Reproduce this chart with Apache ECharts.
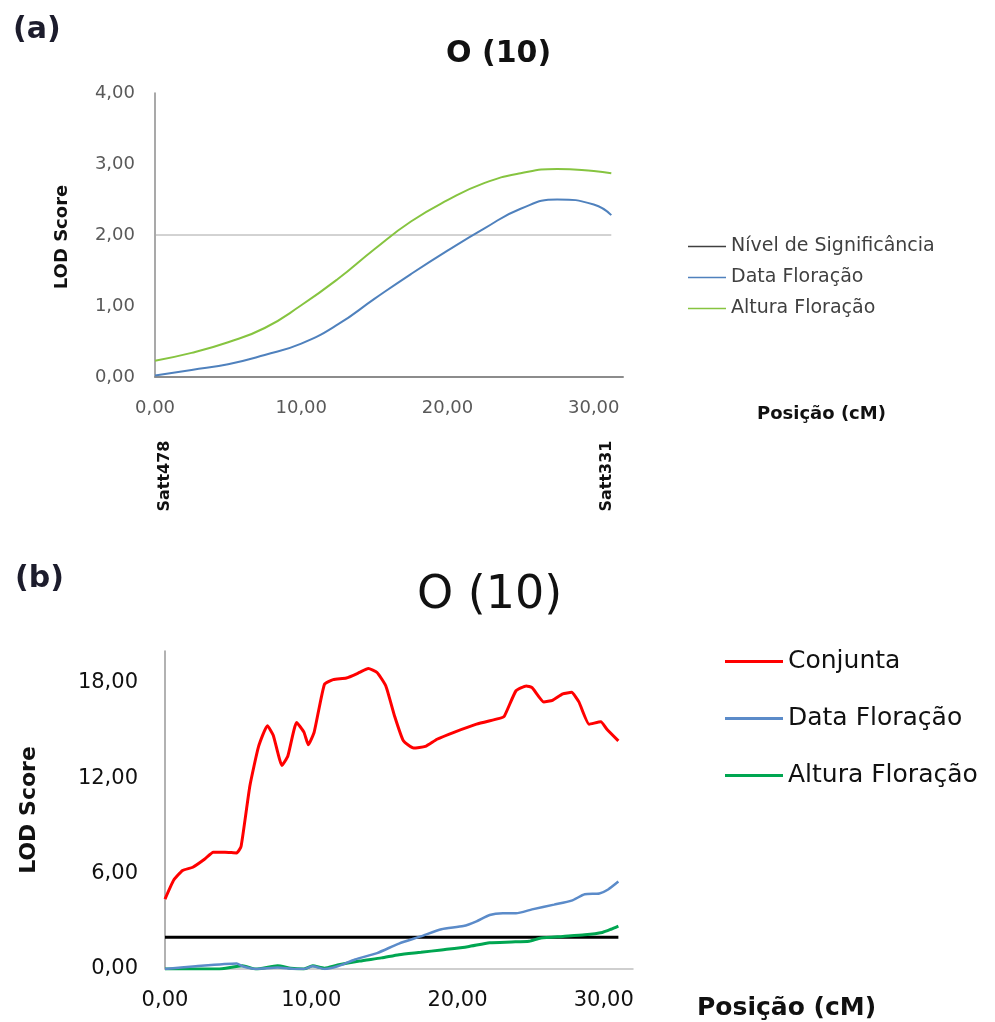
<!DOCTYPE html>
<html>

<head>
	<meta charset="UTF-8">
	<title>LOD O (10)</title>
	<style>
		html, body { margin: 0; padding: 0; background: #fff; }
		#chart { width: 995px; height: 1022px; }
	</style>
	<script src="https://cdn.jsdelivr.net/npm/echarts@6/dist/echarts.min.js"></script>
</head>

<body>
	<div id="chart"></div>
	<script>
		// ---- painel (a) ----
		var posA = [0, 2.5, 5, 7.5, 10, 12.5, 15, 17.5, 20, 22.5, 25, 27.5, 30, 31.2];
		var dataFloracaoA = [0.02, 0.10, 0.18, 0.31, 0.47, 0.74, 1.10, 1.45, 1.78, 2.09, 2.37, 2.50, 2.43, 2.28];
		var alturaFloracaoA = [0.23, 0.34, 0.49, 0.69, 1.01, 1.38, 1.80, 2.19, 2.49, 2.73, 2.87, 2.93, 2.90, 2.87];
		var significanciaA = 2.0;
		var marcadoresA = ['Satt478', 'Satt331'];
		var posMarcadoresA = [0, 31.2];

		// ---- painel (b) ----
		var posConjunta = [0, 0.6, 1.2, 1.9, 2.7, 3.3, 4.1, 4.9, 5.2, 5.8, 6.4, 7.0, 7.4, 8.0, 8.4, 9.0, 9.5, 9.8, 10.2, 10.9,
			11.5, 12.4, 13.3, 13.9, 14.5, 15.1, 15.7, 16.3, 17.0, 17.8, 18.6, 19.8, 21.3, 22.8, 23.2, 24.0, 24.7, 25.1,
			25.9, 26.5, 27.2, 27.8, 28.3, 29.0, 29.8, 30.2, 31.0];
		var conjunta = [4.4, 5.6, 6.2, 6.4, 6.9, 7.35, 7.35, 7.3, 7.7, 11.5, 14.0, 15.3, 14.7, 12.8, 13.4, 15.5, 14.9, 14.1, 14.9, 17.9,
			18.2, 18.3, 18.65, 18.9, 18.65, 17.8, 15.9, 14.35, 13.9, 14.0, 14.45, 14.9, 15.4, 15.75, 15.9, 17.5, 17.8, 17.7,
			16.8, 16.9, 17.3, 17.4, 16.8, 15.4, 15.55, 15.1, 14.35];
		var posDataB = [0, 2.1, 4.9, 5.3, 6.2, 7.7, 8.9, 9.5, 10.1, 10.9, 11.8, 13.0, 14.5, 16.0, 17.5, 18.9, 20.4, 21.3, 22.2,
			23.1, 24.0, 25.1, 26.6, 27.8, 28.7, 29.7, 30.3, 31.0];
		var dataFloracaoB = [0, 0.17, 0.34, 0.17, 0, 0.1, 0, 0, 0.17, 0, 0.17, 0.6, 1.0, 1.6, 2.05, 2.5, 2.7, 3.0, 3.4,
			3.5, 3.5, 3.75, 4.05, 4.3, 4.7, 4.75, 5.0, 5.5];
		var posAlturaB = [0, 3.6, 5.3, 6.2, 7.7, 8.6, 9.5, 10.1, 10.9, 11.8, 13.3, 14.8, 16.0, 17.5, 18.9, 20.7, 22.2, 23.7,
			24.9, 25.7, 27.2, 28.7, 29.9, 30.5, 31.0];
		var alturaFloracaoB = [0, 0, 0.2, 0, 0.2, 0.05, 0, 0.2, 0.05, 0.25, 0.5, 0.7, 0.9, 1.05, 1.2, 1.4, 1.65, 1.7,
			1.75, 1.95, 2.05, 2.15, 2.3, 2.5, 2.7];
		var significanciaB = 2.0;
		var fimB = 31.0;

		function pares(xs, ys) {
			return xs.map(function (x, i) { return [x, ys[i]]; });
		}
		function virgula(v) {
			return v.toFixed(2).replace('.', ',');
		}

		var fonte = 'DejaVu Sans';
		var mychart = echarts.init(document.getElementById('chart'));

		mychart.setOption({
			animation: false,
			backgroundColor: '#fff',
			textStyle: { fontFamily: fonte },
			title: [
				{ text: '(a)', left: 8, top: 10, textStyle: { fontSize: 30, fontWeight: 'bold', color: '#1c1c2c', fontFamily: fonte } },
				{ text: 'O (10)', left: 441, top: 34, textStyle: { fontSize: 30, fontWeight: 'bold', color: '#111', fontFamily: fonte } },
				{ text: 'Posição (cM)', left: 752, top: 400, textStyle: { fontSize: 18, fontWeight: 'bold', color: '#111', fontFamily: fonte } },
				{ text: '(b)', left: 10, top: 559, textStyle: { fontSize: 30, fontWeight: 'bold', color: '#1c1c2c', fontFamily: fonte } },
				{ text: 'O (10)', left: 412, top: 568, textStyle: { fontSize: 46, fontWeight: 'normal', color: '#111', fontFamily: fonte } },
				{ text: 'Posição (cM)', left: 692, top: 991, textStyle: { fontSize: 25, fontWeight: 'bold', color: '#111', fontFamily: fonte } }
			],
			legend: [
				{
					orient: 'vertical', left: 683, top: 232,
					itemWidth: 38, itemHeight: 1.5, itemGap: 12,
					textStyle: { fontSize: 19, color: '#404040', fontFamily: fonte },
					data: [
						{ name: 'Nível de Significância', icon: 'rect', itemStyle: { color: '#404040' } },
						{ name: 'Data Floração', icon: 'rect', itemStyle: { color: '#4f81bd' } },
						{ name: 'Altura Floração', icon: 'rect', itemStyle: { color: '#86c440' } }
					]
				},
				{
					orient: 'vertical', left: 720, top: 644,
					itemWidth: 58, itemHeight: 3, itemGap: 32,
					textStyle: { fontSize: 25, color: '#111', fontFamily: fonte },
					data: [
						{ name: 'Conjunta', icon: 'rect', itemStyle: { color: '#ff0000' } },
						{ name: 'Data Floração', icon: 'rect', itemStyle: { color: '#5b8bc9' } },
						{ name: 'Altura Floração', icon: 'rect', itemStyle: { color: '#00a651' } }
					]
				}
			],
			grid: [
				{ left: 155, top: 93, width: 468, height: 284 },
				{ left: 165, top: 651, width: 468, height: 318 }
			],
			xAxis: [
				{
					gridIndex: 0, type: 'value', min: 0, max: 32, interval: 10,
					axisLine: { lineStyle: { color: '#8c8c8c', width: 2 } },
					axisTick: { show: false }, splitLine: { show: false },
					axisLabel: { formatter: virgula, showMaxLabel: false, margin: 22, fontSize: 18, color: '#595959', fontFamily: fonte }
				},
				{
					gridIndex: 1, type: 'value', min: 0, max: 32, interval: 10,
					axisLine: { onZero: false, lineStyle: { color: '#c0c0c0', width: 1.5 } },
					axisTick: { show: false }, splitLine: { show: false },
					axisLabel: { formatter: virgula, showMaxLabel: false, margin: 21, fontSize: 21, color: '#111', fontFamily: fonte }
				}
			],
			yAxis: [
				{
					gridIndex: 0, type: 'value', min: 0, max: 4, interval: 1,
					axisLine: { show: true, lineStyle: { color: '#8c8c8c', width: 1.5 } },
					axisTick: { show: false }, splitLine: { show: false },
					axisLabel: { formatter: virgula, margin: 20, fontSize: 18, color: '#595959', fontFamily: fonte }
				},
				{
					gridIndex: 1, type: 'value', min: 0, max: 20, interval: 6,
					axisLine: { show: true, lineStyle: { color: '#999', width: 1.5 } },
					axisTick: { show: false }, splitLine: { show: false },
					axisLabel: { formatter: virgula, showMaxLabel: false, margin: 27, fontSize: 21, color: '#111', fontFamily: fonte }
				}
			],
			series: [
				{
					name: 'Nível de Significância', type: 'line', xAxisIndex: 0, yAxisIndex: 0,
					symbol: 'none', data: [[0, significanciaA], [posA[posA.length - 1], significanciaA]],
					lineStyle: { color: '#a6a6a6', width: 1 }, itemStyle: { color: '#404040' }
				},
				{
					name: 'Data Floração', type: 'line', xAxisIndex: 0, yAxisIndex: 0,
					symbol: 'none', smooth: true, data: pares(posA, dataFloracaoA),
					lineStyle: { color: '#4f81bd', width: 2 }, itemStyle: { color: '#4f81bd' }
				},
				{
					name: 'Altura Floração', type: 'line', xAxisIndex: 0, yAxisIndex: 0,
					symbol: 'none', smooth: true, data: pares(posA, alturaFloracaoA),
					lineStyle: { color: '#86c440', width: 2 }, itemStyle: { color: '#86c440' }
				},
				{
					name: 'Nível de Significância b', type: 'line', xAxisIndex: 1, yAxisIndex: 1,
					symbol: 'none', data: [[0, significanciaB], [fimB, significanciaB]],
					lineStyle: { color: '#000', width: 3 }, itemStyle: { color: '#000' }
				},
				{
					name: 'Altura Floração', type: 'line', xAxisIndex: 1, yAxisIndex: 1,
					symbol: 'none', smooth: 0.2, data: pares(posAlturaB, alturaFloracaoB),
					lineStyle: { color: '#00a651', width: 3 }, itemStyle: { color: '#00a651' }
				},
				{
					name: 'Data Floração', type: 'line', xAxisIndex: 1, yAxisIndex: 1,
					symbol: 'none', smooth: 0.2, data: pares(posDataB, dataFloracaoB),
					lineStyle: { color: '#5b8bc9', width: 2.5 }, itemStyle: { color: '#5b8bc9' }
				},
				{
					name: 'Conjunta', type: 'line', xAxisIndex: 1, yAxisIndex: 1,
					symbol: 'none', smooth: 0.15, data: pares(posConjunta, conjunta),
					lineStyle: { color: '#ff0000', width: 3 }, itemStyle: { color: '#ff0000' }
				}
			]
		});

		// textos girados: nomes dos eixos e marcadores
		var deslocMarcador = [10, -4];
		var graficos = [
			{
				type: 'text', x: 62, y: 237, rotation: Math.PI / 2,
				style: { text: 'LOD Score', x: 0, y: 0, align: 'center', verticalAlign: 'middle', fontSize: 18, fontWeight: 'bold', fontFamily: fonte, fill: '#111' }
			},
			{
				type: 'text', x: 29, y: 810, rotation: Math.PI / 2,
				style: { text: 'LOD Score', x: 0, y: 0, align: 'center', verticalAlign: 'middle', fontSize: 22, fontWeight: 'bold', fontFamily: fonte, fill: '#111' }
			}
		];
		marcadoresA.forEach(function (nome, i) {
			var px = mychart.convertToPixel({ xAxisIndex: 0, yAxisIndex: 0 }, [posMarcadoresA[i], 0]);
			graficos.push({
				type: 'text', x: px[0] + deslocMarcador[i], y: 476, rotation: Math.PI / 2,
				style: { text: nome, x: 0, y: 0, align: 'center', verticalAlign: 'middle', fontSize: 16, fontWeight: 'bold', fontFamily: fonte, fill: '#111' }
			});
		});
		mychart.setOption({ graphic: graficos });
	</script>
</body>

</html>
